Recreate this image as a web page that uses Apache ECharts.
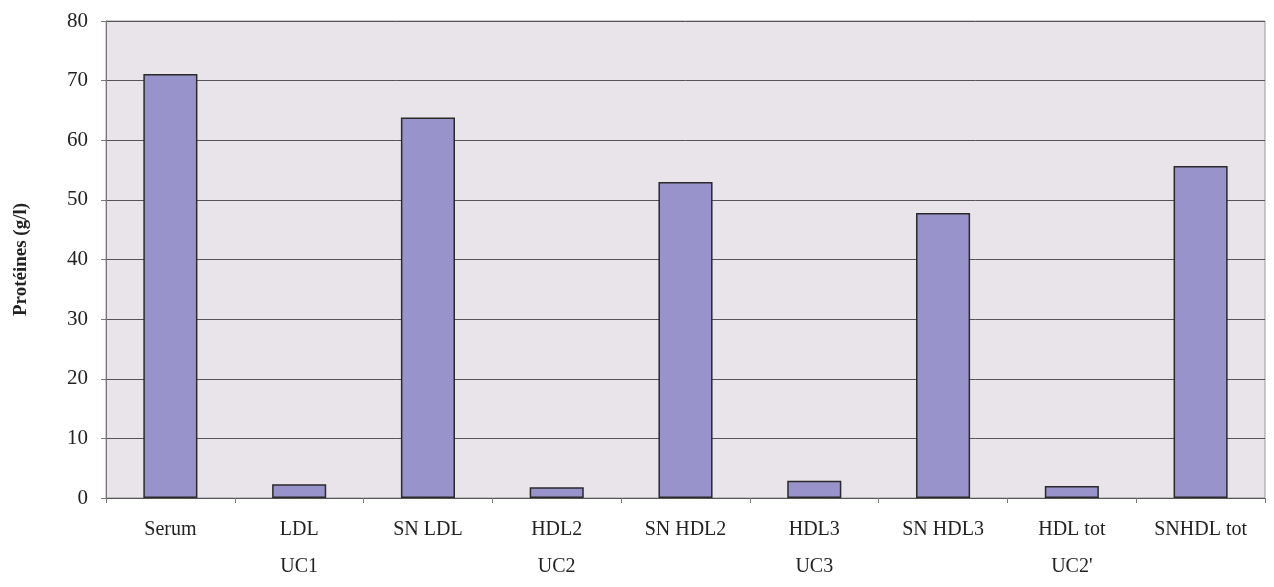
<!DOCTYPE html>
<html>
<head>
<meta charset="utf-8">
<script src="https://cdn.jsdelivr.net/npm/echarts@6/dist/echarts.min.js"></script>
<style>
  html, body { margin: 0; padding: 0; background: #fff; }
  #chart { width: 1274px; height: 587px; }
</style>
</head>
<body>
<div id="chart"></div>
<script>
const categories = ['Serum', 'LDL\nUC1', 'SN LDL', 'HDL2\nUC2', 'SN HDL2', 'HDL3\nUC3', 'SN HDL3', 'HDL tot\nUC2\'', 'SNHDL tot'];
const proteines = [71.1, 2.3, 63.8, 1.8, 53.0, 2.9, 47.8, 2.0, 55.7];

let myChart = echarts.init(document.getElementById('chart'))
myChart.setOption({
  textStyle: { fontFamily: 'Liberation Serif' },
  grid: {
    left: 106,
    right: 9,
    top: 21,
    bottom: 89,
    show: true,
    backgroundColor: '#e9e3ea',
    borderColor: '#9a9a9a',
    borderWidth: 1
  },
  xAxis: {
    type: 'category',
    data: categories,
    axisLine: { lineStyle: { color: '#555' } },
    axisTick: { show: true, length: 5, lineStyle: { color: '#777' } },
    axisLabel: { color: '#222', fontSize: 20, lineHeight: 37, margin: 13 }
  },
  yAxis: {
    type: 'value',
    min: 0,
    max: 80,
    interval: 10,
    name: 'Protéines (g/l)',
    nameLocation: 'middle',
    nameGap: 75,
    nameTextStyle: { fontSize: 19, fontWeight: 'bold', color: '#222', fontFamily: 'Liberation Serif' },
    axisLine: { show: true, lineStyle: { color: '#777' } },
    axisTick: { show: true, length: 5, lineStyle: { color: '#777' } },
    axisLabel: { color: '#222', fontSize: 21, margin: 18 },
    splitLine: { lineStyle: { color: '#555', width: 1 } }
  },
  series: [
    {
      type: 'bar',
      data: proteines,
      barWidth: '42%',
      itemStyle: { color: '#9893cb', borderColor: '#2a2a2a', borderWidth: 1.5 }
    }
  ]
});
</script>
</body>
</html>
